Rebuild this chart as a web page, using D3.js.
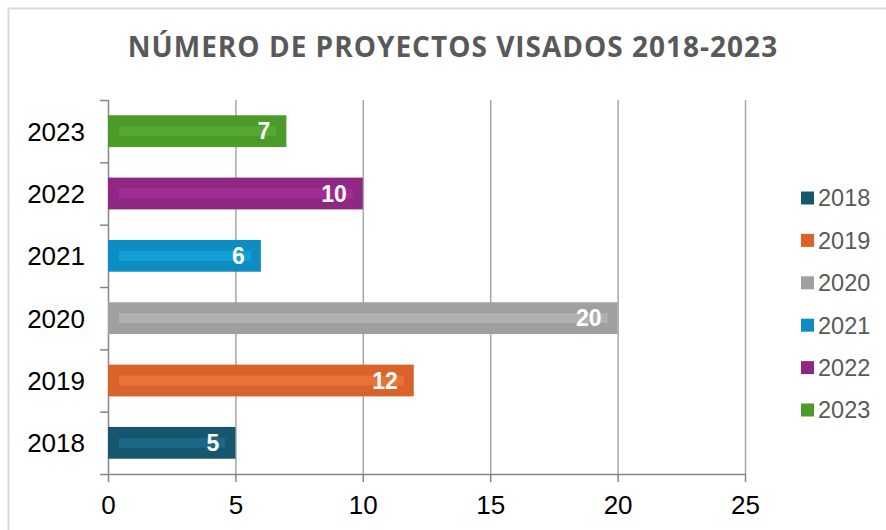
<!DOCTYPE html>
<html lang="es">
<head>
<meta charset="UTF-8">
<title>Número de proyectos visados 2018-2023</title>
<script src="https://d3js.org/d3.v7.min.js"></script>
<style>
    body { margin: 0; background: #fff; }
    svg { display: block; }
</style>
</head>
<body>
<div id="chart"></div>
<script>
    const years = ["2018", "2019", "2020", "2021", "2022", "2023"];
    const values = [5, 12, 20, 6, 10, 7];
    const barColors = ["#16566f", "#da632b", "#a0a0a0", "#0d8dc1", "#8e2883", "#4b9a2a"];
    const stripeColors = ["#1c6785", "#e8733a", "#b1b1b1", "#139fd5", "#a12c95", "#55a932"];
    const xTicks = [0, 5, 10, 15, 20, 25];
    const title = "NÚMERO DE PROYECTOS VISADOS 2018-2023";

    const width = 886, height = 530;
    const svg = d3.select("#chart").append("svg")
        .attr("width", width)
        .attr("height", height);

    // chart frame
    svg.append("rect")
        .attr("x", 8.5).attr("y", 8.5)
        .attr("width", 1000).attr("height", 1000)
        .attr("fill", "#fff")
        .attr("stroke", "#d9d9d9")
        .attr("stroke-width", 2);

    svg.append("text")
        .attr("x", 453)
        .attr("y", 57)
        .attr("text-anchor", "middle")
        .style("font-family", "'Open Sans', sans-serif")
        .style("font-weight", "bold")
        .style("font-size", "28px")
        .style("letter-spacing", "1px")
        .attr("fill", "#595959")
        .text(title);

    const x = d3.scaleLinear().domain([0, 25]).range([108, 745]);
    const y = d3.scaleBand()
        .domain(years.slice().reverse())
        .range([100, 474])
        .paddingInner(0.49)
        .paddingOuter(0.245);

    // gridlines
    svg.append("g")
        .selectAll("line")
        .data(xTicks.filter(d => d > 0))
        .join("line")
        .attr("x1", d => x(d) + 0.5).attr("x2", d => x(d) + 0.5)
        .attr("y1", 100).attr("y2", 474)
        .attr("stroke", "#a6a6a6")
        .attr("stroke-width", 1.5);

    // y axis (ticks at band edges)
    const yEdges = d3.range(years.length + 1).map(i => 100 + i * y.step());
    const yAxis = svg.append("g");
    yAxis.append("line")
        .attr("x1", 108.5).attr("x2", 108.5)
        .attr("y1", 100).attr("y2", 474)
        .attr("stroke", "#868686").attr("stroke-width", 1.5);
    yAxis.selectAll(".tick")
        .data(yEdges)
        .join("line")
        .attr("x1", 100).attr("x2", 108)
        .attr("y1", d => d + 0.5).attr("y2", d => d + 0.5)
        .attr("stroke", "#868686").attr("stroke-width", 1.5);
    yAxis.selectAll("text")
        .data(years)
        .join("text")
        .attr("x", 85)
        .attr("y", d => y(d) + y.bandwidth() / 2)
        .attr("dy", "0.36em")
        .attr("text-anchor", "end")
        .style("font-family", "'Liberation Sans', Arial, sans-serif")
        .style("font-size", "26px")
        .attr("fill", "#000")
        .text(d => d);

    // x axis
    const xAxis = svg.append("g")
        .attr("transform", "translate(0,474)")
        .call(d3.axisBottom(x).tickValues(xTicks).tickSize(8).tickPadding(14).tickSizeOuter(0));
    xAxis.select(".domain").attr("stroke", "#868686").attr("stroke-width", 1.5);
    xAxis.selectAll(".tick line").attr("stroke", "#868686").attr("stroke-width", 1.5);
    xAxis.selectAll(".tick text")
        .style("font-family", "'Liberation Sans', Arial, sans-serif")
        .style("font-size", "26px")
        .attr("fill", "#000");

    // bars
    const bars = svg.append("g")
        .selectAll("g")
        .data(years.map((yr, i) => ({ year: yr, value: values[i], color: barColors[i], stripe: stripeColors[i] })))
        .join("g");

    bars.append("rect")
        .attr("x", x(0))
        .attr("y", d => y(d.year))
        .attr("width", d => x(d.value) - x(0))
        .attr("height", y.bandwidth())
        .attr("fill", d => d.color);

    bars.append("rect")
        .attr("x", x(0) + 11)
        .attr("y", d => y(d.year) + y.bandwidth() / 2 - 5)
        .attr("width", d => x(d.value) - x(0) - 21)
        .attr("height", 10)
        .attr("fill", d => d.stripe);

    bars.append("text")
        .attr("x", d => x(d.value) - 16)
        .attr("y", d => y(d.year) + y.bandwidth() / 2)
        .attr("dy", "0.36em")
        .attr("text-anchor", "end")
        .style("font-family", "'Liberation Sans', Arial, sans-serif")
        .style("font-weight", "bold")
        .style("font-size", "23px")
        .attr("fill", "#fff")
        .text(d => d.value);

    // legend
    const legend = svg.append("g")
        .selectAll("g")
        .data(years)
        .join("g")
        .attr("transform", (d, i) => `translate(801,${198 + i * 42.4})`);
    legend.append("rect")
        .attr("x", 0).attr("y", -6.5)
        .attr("width", 13).attr("height", 13)
        .attr("fill", (d, i) => barColors[i]);
    legend.append("text")
        .attr("x", 17)
        .attr("dy", "0.36em")
        .style("font-family", "'Liberation Sans', Arial, sans-serif")
        .style("font-size", "23.5px")
        .attr("fill", "#595959")
        .text(d => d);
</script>
</body>
</html>
